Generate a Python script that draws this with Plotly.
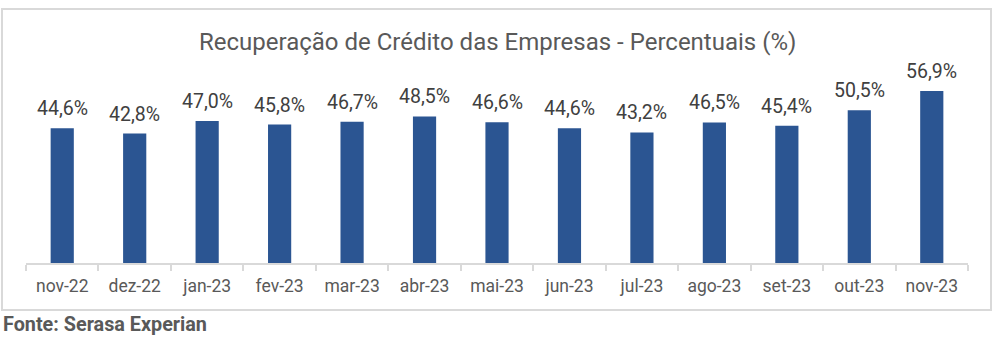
import plotly.graph_objects as go

categories = ["nov-22", "dez-22", "jan-23", "fev-23", "mar-23", "abr-23", "mai-23",
              "jun-23", "jul-23", "ago-23", "set-23", "out-23", "nov-23"]
values = [44.6, 42.8, 47.0, 45.8, 46.7, 48.5, 46.6, 44.6, 43.2, 46.5, 45.4, 50.5, 56.9]
labels = [f"{v:.1f}%".replace(".", ",") for v in values]
title_text = "Recuperação de Crédito das Empresas - Percentuais (%)"
source_text = "Fonte: Serasa Experian"

W, H = 997, 340
FONT = "Roboto"

x0_px, x1_px = 26, 968
axis_y_px = 263
top_px = 30

fig = go.Figure()
fig.add_trace(go.Bar(
    x=categories, y=values,
    marker=dict(color="#2B5592", line=dict(width=0)),
    width=0.32,
    hoverinfo="skip",
))

ann = []
for c, v, t in zip(categories, values, labels):
    ann.append(dict(x=c, y=v, xref="x", yref="y", text=t, showarrow=False,
                    yanchor="bottom", yshift=6,
                    font=dict(family=FONT, size=19.5, color="#404040")))
ann.append(dict(x=497 / W, y=1 - 42 / H, xref="paper", yref="paper", text=title_text,
                showarrow=False, xanchor="center", yanchor="middle",
                font=dict(family=FONT, size=24, color="#595959")))
ann.append(dict(x=1 / W, y=1 - 324 / H, xref="paper", yref="paper",
                text="<b>" + source_text + "</b>", showarrow=False,
                xanchor="left", yanchor="middle",
                font=dict(family=FONT, size=19.8, color="#595959")))

ymax = (axis_y_px - top_px) / (172.0 / 56.9)

fig.update_layout(
    width=W, height=H, autosize=False,
    margin=dict(l=0, r=0, t=0, b=0),
    paper_bgcolor="white", plot_bgcolor="white",
    showlegend=False,
    annotations=ann,
    xaxis=dict(domain=[x0_px / W, x1_px / W], type="category", range=[-0.5, 12.5],
               showline=True, linecolor="#D9D9D9", linewidth=2,
               ticks="outside", tickson="boundaries", ticklen=6, tickwidth=2,
               tickcolor="#D9D9D9", showgrid=False, zeroline=False,
               tickfont=dict(family=FONT, size=17.5, color="#595959"),
               ticklabelstandoff=6),
    yaxis=dict(domain=[1 - axis_y_px / H, 1 - top_px / H], range=[0, ymax],
               visible=False, showgrid=False, zeroline=False),
    shapes=[dict(type="rect", xref="paper", yref="paper",
                 x0=2 / W, x1=991 / W, y0=1 - 310 / H, y1=1 - 9 / H,
                 line=dict(color="#D9D9D9", width=2), fillcolor="rgba(0,0,0,0)",
                 layer="below")],
)

fig.write_html("out.html")
